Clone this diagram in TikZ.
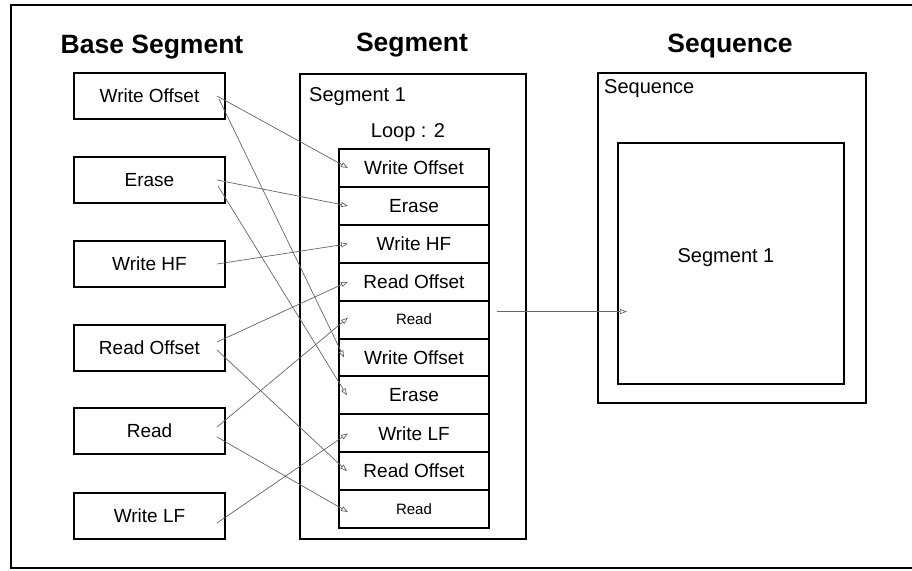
\documentclass[tikz,border=0pt]{standalone}
\usepackage{fontspec}
\setmainfont{Liberation Sans}
\usetikzlibrary{arrows.meta}
\begin{document}
\begin{tikzpicture}[x=1pt,y=-1pt,
  box/.style={draw=black, line width=2pt, minimum width=151pt, minimum height=46pt, inner sep=0pt, outer sep=0pt, font=\fontsize{19}{22}\selectfont},
  row/.style={draw=black, line width=2pt, minimum width=150pt, minimum height=37.9pt, inner sep=0pt, outer sep=0pt, font=\fontsize{19}{22}\selectfont},
  smallrow/.style={row, font=\fontsize{15}{18}\selectfont},
  frame/.style={draw=black, line width=2pt, outer sep=0pt},
  title/.style={font=\bfseries\fontsize{26.5}{30}\selectfont},
  lbl/.style={font=\fontsize{20}{24}\selectfont, inner sep=0pt},
  conn/.style={draw=black!60, line width=0.7pt, -{Triangle[open, length=7pt, width=5pt]}}
]
\useasboundingbox (0,0) rectangle (912,570);
\clip (0,0) rectangle (912,570);
\fill[white] (0,0) rectangle (912,570);
\draw[frame] (11,5) rectangle (930,568);

% titles
\node[title] (tbase) at (152,47) {Base Segment};
\node[title] (tseg) at (412,45) {Segment};
\node[title] (tseq) at (730,46) {Sequence};

% base segment boxes
\node[box] (b1) at (149.5,96) {Write Offset};
\node[box] (b2) at (149.5,180) {Erase};
\node[box] (b3) at (149.5,264) {Write HF};
\node[box] (b4) at (149.5,348) {Read Offset};
\node[box] (b5) at (149.5,431) {Read};
\node[box] (b6) at (149.5,516) {Write LF};

% segment container
\node[frame, minimum width=226pt, minimum height=465pt, inner sep=0pt] (seg) at (413,306.5) {};
\node[lbl, anchor=west] (seg1) at (309,97) {Segment 1};
\node[lbl] (loop) at (408,133) {Loop : 2};

% list rows
\node[row] (r1) at (414,168) {Write Offset};
\node[row] (r2) at (414,205.9) {Erase};
\node[row] (r3) at (414,243.8) {Write HF};
\node[row] (r4) at (414,281.7) {Read Offset};
\node[smallrow] (r5) at (414,319.6) {Read};
\node[row] (r6) at (414,357.5) {Write Offset};
\node[row] (r7) at (414,395.4) {Erase};
\node[row] (r8) at (414,433.3) {Write LF};
\node[row] (r9) at (414,471.2) {Read Offset};
\node[smallrow] (r10) at (414,509.1) {Read};

% sequence
\node[frame, minimum width=268pt, minimum height=330pt, inner sep=0pt] (seq) at (732,238) {};
\node[lbl, anchor=west] (seqlbl) at (604,89) {Sequence};
\node[frame, minimum width=226pt, minimum height=241pt, inner sep=0pt] (inner) at (731,263.5) {};
\node[lbl] (iseg) at (726,258) {Segment 1};

% connectors
\begin{scope}[every path/.style={conn}]
\draw ([shift={(-8,0)}]b1.east) -- ([shift={(9,0)}]r1.west);
\draw ([shift={(-6,3)}]b1.east) -- ([shift={(5,0)}]r6.west);
\draw ([shift={(-8,0)}]b2.east) -- ([shift={(9,0)}]r2.west);
\draw ([shift={(-7,6)}]b2.east) -- ([shift={(8,0)}]r7.west);
\draw ([shift={(-8,0)}]b3.east) -- ([shift={(9,0)}]r3.west);
\draw ([shift={(-8,-6)}]b4.east) -- ([shift={(9,0)}]r4.west);
\draw ([shift={(-8,2)}]b4.east) -- ([shift={(8,0)}]r9.west);
\draw ([shift={(-8,-4)}]b5.east) -- ([shift={(9,-2)}]r5.west);
\draw ([shift={(-8,6)}]b5.east) -- ([shift={(9,3)}]r10.west);
\draw ([shift={(-8,7)}]b6.east) -- ([shift={(9,0)}]r8.west);
\end{scope}
\coordinate (aout) at ([shift={(8,-8)}]r5.east);
\draw[conn] (aout) -- (aout -| inner.west) -- ++(9,0);
\end{tikzpicture}
\end{document}
